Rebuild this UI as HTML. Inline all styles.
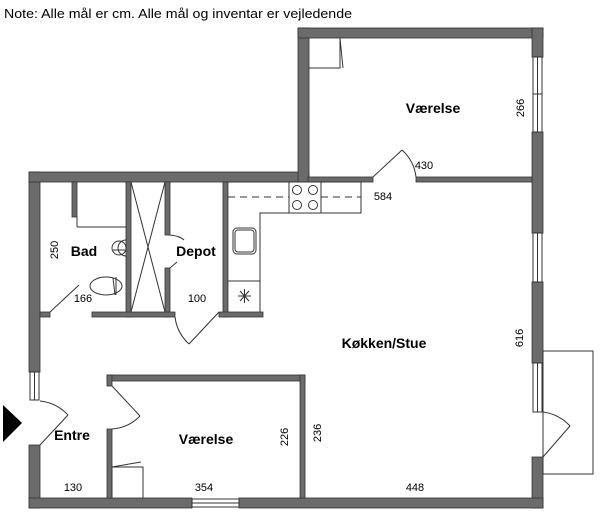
<!DOCTYPE html>
<html><head><meta charset="utf-8"><style>
html,body{margin:0;padding:0;background:#fff;width:600px;height:518px;overflow:hidden}
svg{display:block}
text{font-family:"Liberation Sans",Arial,sans-serif;fill:#000}
.n{font-size:11px}
.b{font-size:14px;font-weight:bold}
</style></head><body>
<svg width="600" height="518" viewBox="0 0 600 518" xmlns="http://www.w3.org/2000/svg">
<text x="4" y="18" style="font-size:13px" textLength="348" lengthAdjust="spacingAndGlyphs">Note: Alle mål er cm. Alle mål og inventar er vejledende</text>
<g fill="#6b6b6b" stroke="#333" stroke-width="0.8">
<rect x="29" y="172" width="11" height="200"/>
<rect x="29" y="445" width="11" height="63"/>
<rect x="29" y="172" width="280" height="10"/>
<rect x="298" y="28" width="11" height="154"/>
<rect x="298" y="28" width="245" height="10"/>
<rect x="532" y="28" width="11" height="29"/>
<rect x="532" y="132" width="11" height="101"/>
<rect x="532" y="282" width="11" height="81"/>
<rect x="532" y="457" width="11" height="51"/>
<rect x="29" y="498" width="163" height="10"/>
<rect x="239" y="498" width="304" height="10"/>
<rect x="308" y="177" width="65" height="5"/>
<rect x="416" y="177" width="116" height="5"/>
<rect x="126" y="182" width="5" height="135"/>
<rect x="165" y="182" width="5" height="53"/>
<rect x="165" y="268" width="5" height="49"/>
<rect x="223" y="182" width="5" height="135"/>
<rect x="40" y="312" width="10" height="5"/>
<rect x="92" y="312" width="83" height="5"/>
<rect x="219" y="312" width="44" height="5"/>
<rect x="72" y="182" width="5" height="35"/>
<rect x="107" y="375" width="198" height="6"/>
<rect x="107" y="375" width="5" height="11"/>
<rect x="107" y="429" width="5" height="69"/>
<rect x="300" y="375" width="5" height="123"/>
</g>
<g fill="none" stroke="#333" stroke-width="1">
<rect x="533" y="57" width="9" height="75" fill="#fff"/><line x1="537.5" y1="57" x2="537.5" y2="132"/><line x1="533" y1="94" x2="542" y2="94"/>
<rect x="533" y="233" width="9" height="49" fill="#fff"/><line x1="537.5" y1="233" x2="537.5" y2="282"/>
<rect x="533" y="363" width="9" height="49" fill="#fff"/><line x1="537.5" y1="363" x2="537.5" y2="412"/>
<rect x="30" y="372" width="9" height="28" fill="#fff"/><line x1="34.5" y1="372" x2="34.5" y2="400"/>
<rect x="192" y="499" width="47" height="8" fill="#fff"/><line x1="192" y1="503" x2="239" y2="503"/>
<rect x="543" y="351" width="50" height="123"/>
<line x1="543" y1="457" x2="570" y2="426"/><path d="M570 426 A45 45 0 0 0 543 412"/>
<line x1="40" y1="445" x2="68" y2="415"/><path d="M68 415 A45 45 0 0 0 40 401"/>
<line x1="112" y1="386" x2="140" y2="416"/><path d="M140 416 A43 43 0 0 1 112 429"/>
<line x1="373" y1="177" x2="402" y2="150"/><path d="M402 150 A43 43 0 0 1 416 177"/>
<line x1="50" y1="312" x2="79" y2="285"/>
<line x1="219" y1="312" x2="189" y2="344"/><path d="M189 344 A44 44 0 0 1 175 317"/>
<path d="M170 235 Q180 236 184 240"/><line x1="170" y1="268" x2="177" y2="262"/>
<line x1="77" y1="217" x2="77" y2="227"/><line x1="77" y1="227" x2="126" y2="227"/>
<path d="M126 240 A8 8 0 0 0 126 256"/><circle cx="119" cy="248" r="7"/><line x1="113" y1="250" x2="125" y2="250"/>
<ellipse cx="106" cy="286" rx="16" ry="9"/><line x1="113" y1="278" x2="115" y2="295"/><line x1="116" y1="277" x2="116" y2="295"/>
<line x1="131" y1="182" x2="165" y2="312"/><line x1="165" y1="182" x2="131" y2="312"/>
<path d="M228 182 H361 V213 H260 V312"/>
<rect x="289" y="182" width="32" height="31"/>
<circle cx="297" cy="190" r="4.5"/><circle cx="313" cy="190" r="4.5"/><circle cx="297" cy="205" r="4.5"/><circle cx="313" cy="205" r="4.5"/>
<line x1="228" y1="197" x2="289" y2="197" stroke-dasharray="7,5"/><line x1="321" y1="197" x2="361" y2="197" stroke-dasharray="7,5"/>
<rect x="233" y="228" width="23" height="26" rx="4"/><rect x="235" y="230" width="19" height="22" rx="3"/>
<line x1="228" y1="281" x2="260" y2="281"/>
<path d="M238 296 H251 M244.5 289 V303 M240 291 L249 301 M249 291 L240 301"/>
<path d="M309 68 H340 V38 M340 38 L343 68"/>
<path d="M112 498 V467 H143 V498 M112 467 L141 462"/>
</g>
<polygon points="3,405 22,423 3,442" fill="#000"/>
<text class="b" x="433" y="113" text-anchor="middle">Værelse</text>
<text class="b" x="384" y="348" text-anchor="middle">Køkken/Stue</text>
<text class="b" x="84" y="256" text-anchor="middle">Bad</text>
<text class="b" x="196" y="256" text-anchor="middle">Depot</text>
<text class="b" x="72" y="440" text-anchor="middle">Entre</text>
<text class="b" x="206" y="444" text-anchor="middle">Værelse</text>
<text class="n" x="424" y="169" text-anchor="middle">430</text>
<text class="n" x="383" y="200" text-anchor="middle">584</text>
<text class="n" x="83" y="302" text-anchor="middle">166</text>
<text class="n" x="197" y="302" text-anchor="middle">100</text>
<text class="n" x="73" y="491" text-anchor="middle">130</text>
<text class="n" x="204" y="491" text-anchor="middle">354</text>
<text class="n" x="415" y="491" text-anchor="middle">448</text>
<text class="n" transform="translate(524,108) rotate(-90)" text-anchor="middle">266</text>
<text class="n" transform="translate(523,338) rotate(-90)" text-anchor="middle">616</text>
<text class="n" transform="translate(58,250) rotate(-90)" text-anchor="middle">250</text>
<text class="n" transform="translate(288,437) rotate(-90)" text-anchor="middle">226</text>
<text class="n" transform="translate(321,433) rotate(-90)" text-anchor="middle">236</text>
</svg>
</body></html>
